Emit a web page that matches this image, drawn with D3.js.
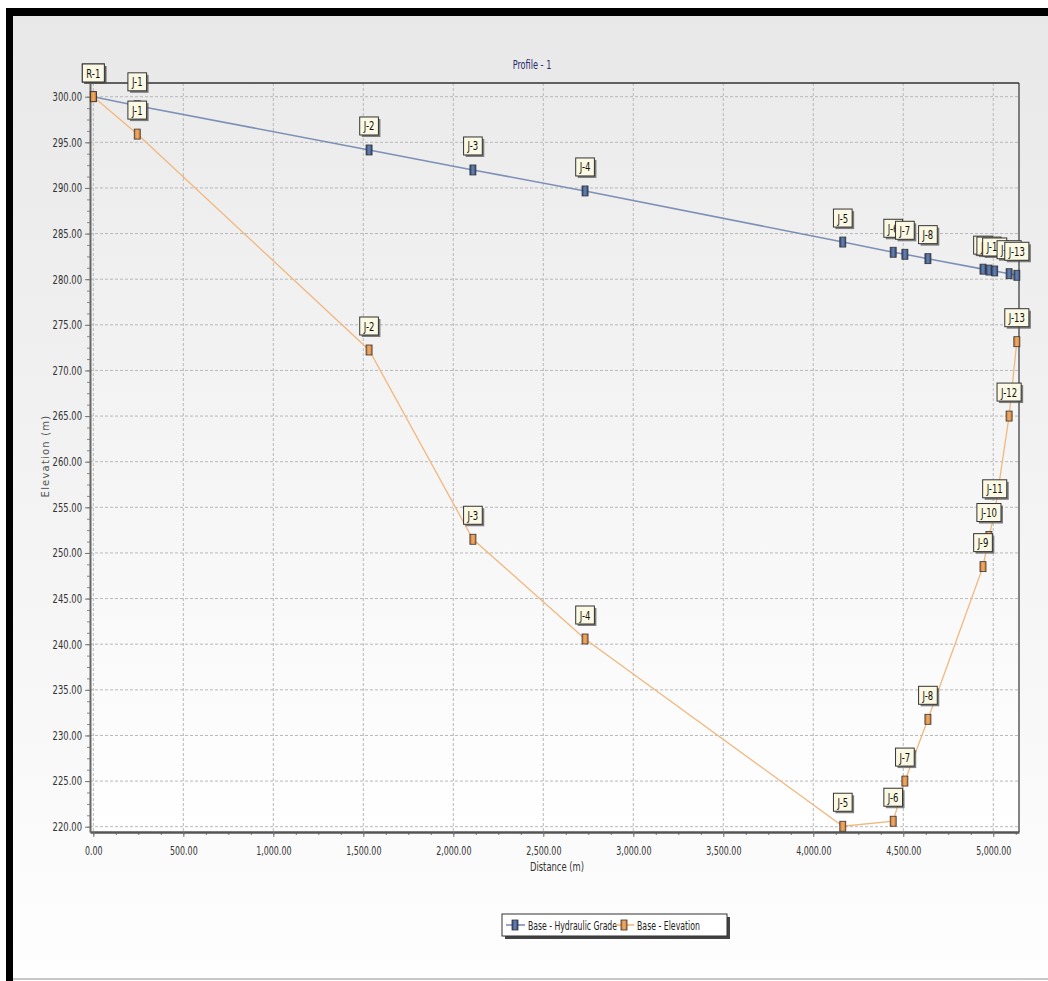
<!DOCTYPE html>
<html>
<head>
<meta charset="utf-8">
<script src="https://cdn.jsdelivr.net/npm/d3@7"></script>
<style>
  body { margin: 0; background: #fff; }
  svg { display: block; }
</style>
</head>
<body>
<div id="chart"></div>
<script>
// node names along the profile
var nodes = ["R-1", "J-1", "J-2", "J-3", "J-4", "J-5", "J-6", "J-7", "J-8", "J-9", "J-10", "J-11", "J-12", "J-13"];
// distance from start (m)
var distance = [0, 244, 1532, 2109, 2732, 4164, 4444, 4509, 4637, 4943, 4976, 5008, 5088, 5131];
// Base - Hydraulic Grade (m)
var hydraulicGrade = [300.0, 299.0, 294.16, 291.97, 289.67, 284.07, 282.95, 282.73, 282.25, 281.1, 281.0, 280.9, 280.6, 280.43];
// Base - Elevation (m)
var elevation = [300.0, 295.9, 272.24, 251.5, 240.57, 220.05, 220.6, 225.0, 231.77, 248.5, 251.8, 254.4, 265.0, 273.15];

var xTicks = [0, 500, 1000, 1500, 2000, 2500, 3000, 3500, 4000, 4500, 5000];
var yTicks = [220, 225, 230, 235, 240, 245, 250, 255, 260, 265, 270, 275, 280, 285, 290, 295, 300];

var W = 1048, H = 981;
var plot = {left: 90, top: 83, right: 1019, bottom: 832};
var font = "'DejaVu Sans', Verdana, sans-serif";

// the original uses a narrow font, so squeeze the glyphs horizontally
function squeeze(sel, k) {
  sel.each(function() {
    var L = this.getComputedTextLength();
    d3.select(this).attr("textLength", L * k).attr("lengthAdjust", "spacingAndGlyphs");
  });
}

var svg = d3.select("#chart")
  .append("svg")
    .attr("width", W)
    .attr("height", H);

var defs = svg.append("defs");
var bg = defs.append("linearGradient").attr("id", "bgGrad").attr("x1", 0).attr("y1", 0).attr("x2", 0).attr("y2", 1);
bg.append("stop").attr("offset", "0%").attr("stop-color", "#e8e8e8");
bg.append("stop").attr("offset", "100%").attr("stop-color", "#fefefe");
var pg = defs.append("linearGradient").attr("id", "plotGrad").attr("x1", 0).attr("y1", 0).attr("x2", 0).attr("y2", 1);
pg.append("stop").attr("offset", "0%").attr("stop-color", "#ebebeb");
pg.append("stop").attr("offset", "100%").attr("stop-color", "#ffffff");
var og = defs.append("linearGradient").attr("id", "orangeGrad").attr("x1", 0).attr("y1", 0).attr("x2", 1).attr("y2", 0);
og.append("stop").attr("offset", "0%").attr("stop-color", "#c97a35");
og.append("stop").attr("offset", "50%").attr("stop-color", "#f3ad68");
og.append("stop").attr("offset", "100%").attr("stop-color", "#c97a35");
var bgr = defs.append("linearGradient").attr("id", "blueGrad").attr("x1", 0).attr("y1", 0).attr("x2", 1).attr("y2", 0);
bgr.append("stop").attr("offset", "0%").attr("stop-color", "#2e4775");
bgr.append("stop").attr("offset", "50%").attr("stop-color", "#6a85b5");
bgr.append("stop").attr("offset", "100%").attr("stop-color", "#2e4775");

// background + black frame
svg.append("rect").attr("x", 6).attr("y", 8).attr("width", W - 6).attr("height", H - 8).attr("fill", "url(#bgGrad)");
svg.append("rect").attr("x", 6).attr("y", 8).attr("width", W - 6).attr("height", 8).attr("fill", "#000");
svg.append("rect").attr("x", 6).attr("y", 8).attr("width", 7).attr("height", H - 8).attr("fill", "#000");
svg.append("rect").attr("x", 13).attr("y", 978).attr("width", W - 13).attr("height", 2).attr("fill", "#c8c8c8");

// plot area
svg.append("rect")
  .attr("x", plot.left).attr("y", plot.top)
  .attr("width", plot.right - plot.left).attr("height", plot.bottom - plot.top)
  .attr("fill", "url(#plotGrad)");

var x = d3.scaleLinear().domain([-18.5, 5143]).range([plot.left, plot.right]);
var y = d3.scaleLinear().domain([219.42, 301.5]).range([plot.bottom, plot.top]);

// grid
svg.append("g").selectAll("line").data(xTicks).enter().append("line")
  .attr("x1", function(d) { return x(d); }).attr("x2", function(d) { return x(d); })
  .attr("y1", plot.top).attr("y2", plot.bottom)
  .attr("stroke", "#b8b8b8").attr("stroke-dasharray", "3,2").attr("stroke-width", 1);
svg.append("g").selectAll("line").data(yTicks).enter().append("line")
  .attr("x1", plot.left).attr("x2", plot.right)
  .attr("y1", function(d) { return y(d); }).attr("y2", function(d) { return y(d); })
  .attr("stroke", "#b8b8b8").attr("stroke-dasharray", "3,2").attr("stroke-width", 1);

// frame top / right
svg.append("line").attr("x1", plot.left).attr("x2", plot.right).attr("y1", plot.top).attr("y2", plot.top)
  .attr("stroke", "#333").attr("stroke-width", 1.5);
svg.append("line").attr("x1", plot.right).attr("x2", plot.right).attr("y1", plot.top).attr("y2", plot.bottom)
  .attr("stroke", "#333").attr("stroke-width", 1.2);

// X axis
var fmt = d3.format(",.2f");
var xMinor = d3.range(0, 5126, 125);
svg.append("g")
  .attr("transform", "translate(0," + plot.bottom + ")")
  .call(d3.axisBottom(x).tickValues(xMinor).tickSize(3).tickFormat(""))
  .call(function(g) { g.select(".domain").remove(); g.selectAll("line").attr("stroke", "#777"); });
var xAxis = svg.append("g")
  .attr("transform", "translate(0," + plot.bottom + ")")
  .call(d3.axisBottom(x).tickValues(xTicks).tickSize(5).tickPadding(9).tickFormat(fmt).tickSizeOuter(0));
xAxis.select(".domain").attr("stroke", "#555").attr("stroke-width", 2.5);
xAxis.selectAll("line").attr("stroke", "#777");
xAxis.selectAll("text").attr("font-family", font).attr("font-size", 12).attr("fill", "#333")
  .call(squeeze, 0.66);

// Y axis
var yMinor = d3.range(220, 301, 1.25);
svg.append("g")
  .attr("transform", "translate(" + plot.left + ",0)")
  .call(d3.axisLeft(y).tickValues(yMinor).tickSize(3).tickFormat(""))
  .call(function(g) { g.select(".domain").remove(); g.selectAll("line").attr("stroke", "#888"); });
var yAxis = svg.append("g")
  .attr("transform", "translate(" + plot.left + ",0)")
  .call(d3.axisLeft(y).tickValues(yTicks).tickSize(5).tickPadding(3).tickFormat(fmt).tickSizeOuter(0));
yAxis.select(".domain").attr("stroke", "#666").attr("stroke-width", 2);
yAxis.selectAll("line").attr("stroke", "#777");
yAxis.selectAll("text").attr("font-family", font).attr("font-size", 12).attr("fill", "#333")
  .call(squeeze, 0.7);

// titles
svg.append("text").attr("x", 532).attr("y", 69).attr("text-anchor", "middle")
  .attr("font-family", font).attr("font-size", 12).attr("fill", "#2b2b6e").text("Profile - 1")
  .call(squeeze, 0.68);
svg.append("text").attr("x", 557).attr("y", 871).attr("text-anchor", "middle")
  .attr("font-family", font).attr("font-size", 12).attr("fill", "#333").text("Distance (m)")
  .call(squeeze, 0.7);
svg.append("text")
  .attr("transform", "translate(49,456) rotate(-90)")
  .attr("text-anchor", "middle")
  .attr("font-family", font).attr("font-size", 10)
  .attr("letter-spacing", 1.2).attr("fill", "#555").text("Elevation (m)");

// series
var hglData = nodes.map(function(n, i) { return {name: n, d: distance[i], v: hydraulicGrade[i]}; });
var elData = nodes.map(function(n, i) { return {name: n, d: distance[i], v: elevation[i]}; });

var line = d3.line().x(function(d) { return x(d.d); }).y(function(d) { return y(d.v); });

svg.append("path").datum(elData).attr("d", line)
  .attr("fill", "none").attr("stroke", "#f2b77e").attr("stroke-width", 1.3);
svg.append("path").datum(hglData).attr("d", line)
  .attr("fill", "none").attr("stroke", "#7d90b6").attr("stroke-width", 1.6);

function drawMarkers(data, fill) {
  svg.append("g").selectAll("rect").data(data).enter().append("rect")
    .attr("x", function(d) { return x(d.d) - 3; })
    .attr("y", function(d) { return y(d.v) - 5; })
    .attr("width", 6).attr("height", 10)
    .attr("fill", fill).attr("stroke", "#333").attr("stroke-width", 0.8);
}
drawMarkers(hglData, "url(#blueGrad)");
drawMarkers(elData, "url(#orangeGrad)");

function drawLabels(data) {
  var g = svg.append("g");
  data.forEach(function(d) {
    var cx = x(d.d), cy = Math.max(y(d.v) - 24, plot.top - 10);
    var lg = g.append("g");
    var t = lg.append("text").attr("x", cx).attr("y", cy + 4.5)
      .attr("text-anchor", "middle").attr("font-family", font).attr("font-size", 12.5)
      .attr("fill", "#111").text(d.name);
    var L = t.node().getComputedTextLength() * 0.68;
    t.attr("textLength", L).attr("lengthAdjust", "spacingAndGlyphs");
    var w = L + 8;
    lg.insert("rect", "text").attr("x", cx - w / 2 + 2).attr("y", cy - 9 + 2)
      .attr("width", w).attr("height", 18).attr("fill", "#555").attr("opacity", 0.75);
    lg.insert("rect", "text").attr("x", cx - w / 2).attr("y", cy - 9)
      .attr("width", w).attr("height", 18).attr("fill", "#fbf9e3")
      .attr("stroke", "#333").attr("stroke-width", 1);
  });
}
drawLabels(hglData);
drawLabels(elData);

// legend
var lgX = 502, lgY = 914, lgW = 225, lgH = 22;
var legend = svg.append("g");
legend.append("rect").attr("x", lgX + 3).attr("y", lgY + 3).attr("width", lgW).attr("height", lgH).attr("fill", "#444");
legend.append("rect").attr("x", lgX).attr("y", lgY).attr("width", lgW).attr("height", lgH)
  .attr("fill", "#fff").attr("stroke", "#333").attr("stroke-width", 1);
var items = [
  {name: "Base - Hydraulic Grade", color: "#7d90b6", fill: "url(#blueGrad)", x: 506, len: 89},
  {name: "Base - Elevation", color: "#f2b77e", fill: "url(#orangeGrad)", x: 615, len: 63}
];
items.forEach(function(it) {
  var cy = lgY + lgH / 2;
  legend.append("line").attr("x1", it.x).attr("x2", it.x + 19).attr("y1", cy).attr("y2", cy)
    .attr("stroke", it.color).attr("stroke-width", 1.6);
  legend.append("rect").attr("x", it.x + 6).attr("y", cy - 5).attr("width", 6).attr("height", 10)
    .attr("fill", it.fill).attr("stroke", "#333").attr("stroke-width", 0.8);
  legend.append("text").attr("x", it.x + 22).attr("y", cy + 4.5)
    .attr("font-family", font).attr("font-size", 12).attr("fill", "#222").text(it.name)
    .attr("textLength", it.len).attr("lengthAdjust", "spacingAndGlyphs");
});
</script>
</body>
</html>
